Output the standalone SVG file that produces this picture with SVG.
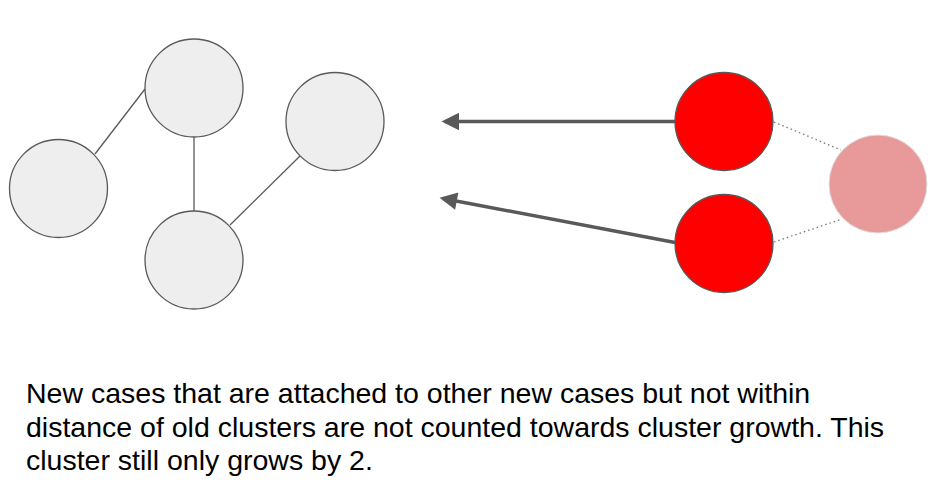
<svg xmlns="http://www.w3.org/2000/svg" width="945" height="497" viewBox="0 0 945 497">
<style>
.old{fill:#eeeeee;stroke:#595959;stroke-width:1.3}
.new{fill:#ff0000;stroke:#595959;stroke-width:1.3}
.pink{fill:#e89a9a;stroke:#e0e0e0;stroke-width:1}
.edge{stroke:#595959;stroke-width:1.3;fill:none}
.dot{stroke:#777777;stroke-width:1.3;stroke-dasharray:1.5 3;fill:none}
.arrow{stroke:#595959;stroke-width:3.5;fill:none}
.txt{font-family:"Liberation Sans",Arial,sans-serif;font-size:28.5px;fill:#000}
</style>
<defs>
<marker id="ah" viewBox="0 0 10 10" refX="8" refY="5" markerWidth="7" markerHeight="5" markerUnits="strokeWidth" orient="auto">
<path d="M0,0 L10,5 L0,10 z" fill="#595959"/>
</marker>
</defs>
<g id="connectors">
<line class="edge" x1="95" y1="154" x2="145" y2="89"/>
<line class="edge" x1="194" y1="136" x2="194" y2="212"/>
<line class="edge" x1="300" y1="156" x2="230" y2="225"/>
<line class="dot" x1="774" y1="122" x2="841" y2="150"/>
<line class="dot" x1="774" y1="242" x2="842" y2="219"/>
<line class="arrow" x1="675" y1="121.5" x2="445" y2="121.5" marker-end="url(#ah)"/>
<line class="arrow" x1="675" y1="242.5" x2="443" y2="198.5" marker-end="url(#ah)"/>
</g>
<g id="node-a"><circle class="old" cx="58.5" cy="188.5" r="49"/></g>
<g id="node-b"><circle class="old" cx="194" cy="88" r="49"/></g>
<g id="node-c"><circle class="old" cx="335" cy="121.5" r="49"/></g>
<g id="node-d"><circle class="old" cx="194" cy="260" r="49"/></g>
<g id="node-red1"><circle class="new" cx="724" cy="121.5" r="49"/></g>
<g id="node-red2"><circle class="new" cx="724" cy="243.5" r="49"/></g>
<g id="node-pink"><circle class="pink" cx="878" cy="184" r="49"/></g>
<g id="caption">
<text class="txt" x="26" y="403">New cases that are attached to other new cases but not within</text>
<text class="txt" x="26" y="437">distance of old clusters are not counted towards cluster growth. This</text>
<text class="txt" x="26" y="470">cluster still only grows by 2.</text>
</g>
</svg>
